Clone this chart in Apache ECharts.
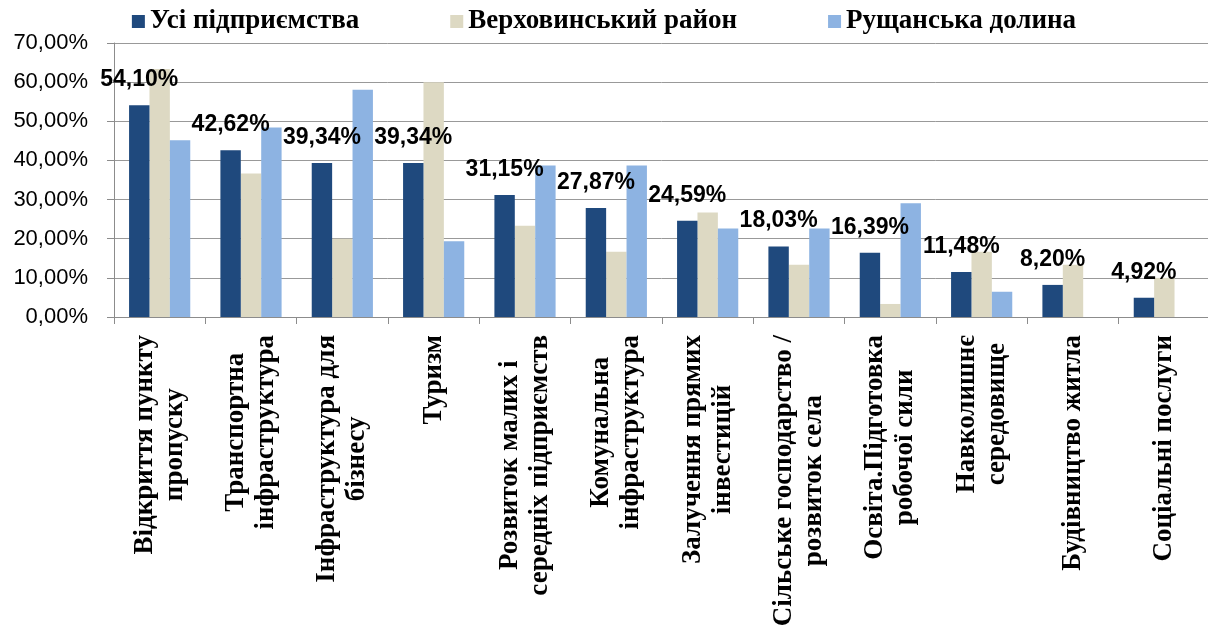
<!DOCTYPE html>
<html>
<head>
<meta charset="utf-8">
<script src="https://cdn.jsdelivr.net/npm/echarts@6/dist/echarts.min.js"></script>
<style>
  html, body { margin: 0; padding: 0; background: #fff; }
  #chart { width: 1208px; height: 626px; }
</style>
</head>
<body>
<div id="chart"></div>
<script>
const categories = [
  'Відкриття пункту\nпропуску',
  'Транспортна\nінфраструктура',
  'Інфраструктура для\nбізнесу',
  'Туризм',
  'Розвиток малих і\nсередніх підприємств',
  'Комунальна\nінфраструктура',
  'Залучення прямих\nінвестицій',
  'Сільське господарство /\nрозвиток села',
  'Освіта.Підготовка\nробочої сили',
  'Навколишнє\nсередовище',
  'Будівництво житла',
  'Соціальні послуги'
];
const seriesNames = ['Усі підприємства', 'Верховинський район', 'Рущанська долина'];
const allFirms = [54.10, 42.62, 39.34, 39.34, 31.15, 27.87, 24.59, 18.03, 16.39, 11.48, 8.20, 4.92];
const verkhovyna = [63.33, 36.67, 20.00, 60.00, 23.33, 16.67, 26.67, 13.33, 3.33, 16.67, 13.33, 10.00];
const rushchanska = [45.16, 48.39, 58.06, 19.35, 38.71, 38.71, 22.58, 22.58, 29.03, 6.45, 0, 0];

const pct = v => v.toFixed(2).replace('.', ',') + '%';
const serif = '"Liberation Serif", "Times New Roman", serif';
const sans = '"Liberation Sans", Arial, sans-serif';
const axisGrey = '#8c8c8c';

const chart = echarts.init(document.getElementById('chart'), null, { renderer: 'canvas' });

chart.setOption({
  animation: false,
  backgroundColor: '#fff',
  legend: {
    top: 3,
    left: 'center',
    itemWidth: 13,
    itemHeight: 13,
    itemGap: 91,
    icon: 'rect',
    textStyle: { fontFamily: serif, fontWeight: 'bold', fontSize: 27, color: '#000' },
    data: seriesNames
  },
  grid: { left: 114, top: 43, width: 1096, height: 274, containLabel: false, outerBoundsMode: 'none' },
  xAxis: {
    type: 'category',
    data: categories,
    axisLine: { lineStyle: { color: axisGrey, width: 1 } },
    axisTick: { show: true, length: 7, lineStyle: { color: axisGrey } },
    axisLabel: {
      interval: 0,
      rotate: 90,
      margin: 18,
      formatter: v => v.split('\n').map(l => '{c|' + l + '}').join('\n'),
      rich: {
        c: { align: 'center', fontFamily: serif, fontWeight: 'bold', fontSize: 27, lineHeight: 30, color: '#000' }
      }
    }
  },
  yAxis: {
    type: 'value',
    min: 0,
    max: 70,
    interval: 10,
    axisLine: { show: true, lineStyle: { color: axisGrey, width: 1 } },
    axisTick: { show: true, length: 7, lineStyle: { color: axisGrey } },
    axisLabel: {
      margin: 26,
      formatter: v => pct(v),
      fontFamily: sans,
      fontSize: 22,
      color: '#000'
    },
    splitLine: { show: true, lineStyle: { color: '#999', width: 1 } }
  },
  series: [
    {
      name: seriesNames[0], type: 'bar', data: allFirms, z: 3,
      barGap: '0%', barCategoryGap: '33%',
      itemStyle: { color: '#1f497d' },
      label: {
        show: true, position: 'top', distance: 14,
        formatter: p => pct(p.value),
        fontFamily: sans, fontWeight: 'bold', fontSize: 23, color: '#000'
      }
    },
    {
      name: seriesNames[1], type: 'bar', data: verkhovyna,
      barGap: '0%', barCategoryGap: '33%',
      itemStyle: { color: '#ddd9c3' }
    },
    {
      name: seriesNames[2], type: 'bar', data: rushchanska,
      barGap: '0%', barCategoryGap: '33%',
      itemStyle: { color: '#8db3e2' }
    }
  ]
});
</script>
</body>
</html>
